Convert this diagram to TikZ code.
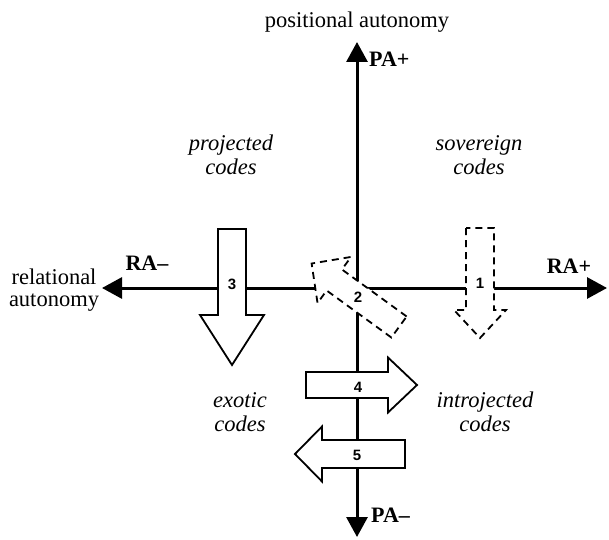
\documentclass[tikz,border=0pt]{standalone}
\usepackage{fontspec}
\setmainfont{Liberation Serif}
\newfontfamily\numfont{Liberation Sans}
\usetikzlibrary{arrows.meta}

% block arrow: [style] {tail} {angle} {length} {shaft half width} {head half width} {head length}
\newcommand{\codearrow}[7][]{%
  \draw[arrowbox,#1,shift={#2},rotate=#3] (0,-#5) -- ({#4-#7},-#5) -- ({#4-#7},-#6) -- (#4,0)
    -- ({#4-#7},#6) -- ({#4-#7},#5) -- (0,#5) -- cycle;}

\begin{document}
\begin{tikzpicture}[x=1pt,y=1pt,
    axis/.style={line width=3pt,{Triangle[length=20pt,width=21pt]}-{Triangle[length=20pt,width=21pt]}},
    arrowbox/.style={line width=1.8pt,fill=white,line join=miter},
    dashedbox/.style={dash pattern=on 7pt off 5pt},
    axislabel/.style={font=\fontsize{22.5}{22}\selectfont,align=center,inner sep=0pt},
    pole/.style={font=\fontsize{22}{22}\selectfont\bfseries,inner sep=0pt},
    quadrant/.style={font=\fontsize{22.5}{24}\selectfont\itshape,align=center,inner sep=0pt},
    number/.style={font=\fontsize{15}{16}\selectfont\numfont\bfseries,inner sep=1pt}]
    \useasboundingbox (0,0) rectangle (609,539);
    % Axes
    \coordinate (top) at (357,497);
    \coordinate (bottom) at (357,2);
    \coordinate (left) at (102,251);
    \coordinate (right) at (607,251);
    \draw[axis] (bottom) -- (top);
    \draw[axis] (left) -- (right);
    % Axis labels
    \node[axislabel,anchor=base] (pa) at (357,511) {positional autonomy};
    \node[axislabel] (ra) at (54,249) {relational\\autonomy};
    \node[pole,anchor=base west] (paplus) at (369,472) {PA+};
    \node[pole,anchor=base west] (paminus) at (371,17) {PA--};
    \node[pole,anchor=base] (raminus) at (147,269) {RA--};
    \node[pole,anchor=base] (raplus) at (569,266) {RA+};
    % Quadrants
    \node[quadrant] (projected) at (231,384) {projected\\codes};
    \node[quadrant] (sovereign) at (479,384) {sovereign\\codes};
    \node[quadrant] (exotic) at (240,127) {exotic\\codes};
    \node[quadrant] (introjected) at (485,127) {introjected\\codes};
    % Code arrows
    \codearrow[dashedbox]{(480,311)}{-90}{110}{14}{26}{28}
    \codearrow[dashedbox]{(399,212)}{144}{108}{13}{28.5}{28}
    \codearrow{(232,310)}{-90}{136}{14}{32}{50}
    \codearrow{(306,154)}{0}{111}{13}{27.5}{29}
    \codearrow{(405,85)}{180}{110}{14}{27.5}{27}
    \node[number] (n1) at (480,256) {1};
    \node[number] (n2) at (358,242) {2};
    \node[number] (n3) at (232,255) {3};
    \node[number] (n4) at (358,152) {4};
    \node[number] (n5) at (357,84) {5};
\end{tikzpicture}
\end{document}
